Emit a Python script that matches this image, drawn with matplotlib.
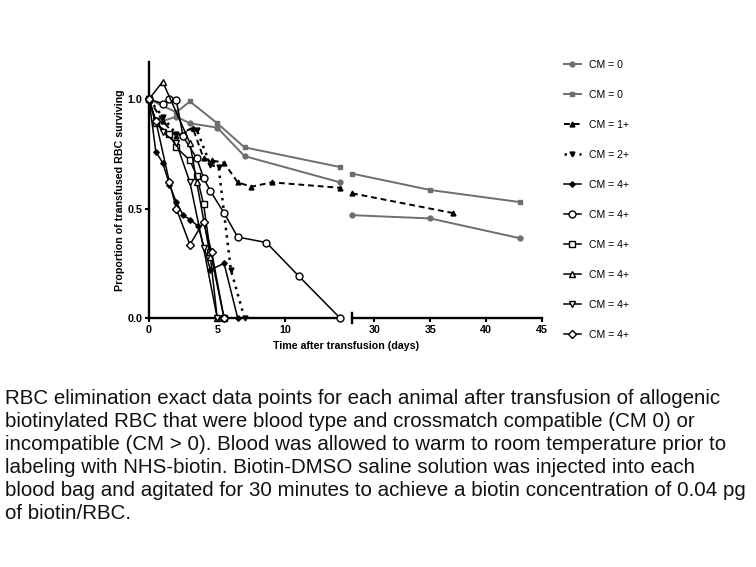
import matplotlib
matplotlib.use("Agg")
import matplotlib.pyplot as plt
from matplotlib.lines import Line2D

plt.rcParams['font.family'] = ['Liberation Sans', 'DejaVu Sans']

# ---------------- data ----------------
# Grey CM = 0 (circle)
cm0a_x_left = [0, 0.5, 2, 3, 5, 7, 14]
cm0a_y_left = [1.0, 0.89, 0.92, 0.89, 0.87, 0.74, 0.62]
cm0a_x_right = [28, 35, 43]
cm0a_y_right = [0.47, 0.455, 0.365]
# Grey CM = 0 (square)
cm0b_x_left = [0, 2, 3, 5, 7, 14]
cm0b_y_left = [1.0, 0.94, 0.99, 0.89, 0.78, 0.69]
cm0b_x_right = [28, 35, 43]
cm0b_y_right = [0.66, 0.585, 0.53]
# CM = 1+ (dashed, triangle up)
cm1_x_left = [0, 1, 2, 3.2, 4, 4.6, 5.5, 6.5, 7.5, 9, 14]
cm1_y_left = [1.0, 0.90, 0.83, 0.87, 0.73, 0.72, 0.71, 0.62, 0.60, 0.62, 0.595]
cm1_x_right = [28, 37]
cm1_y_right = [0.57, 0.48]
# CM = 2+ (dotted, triangle down)
cm2_x = [0, 1, 2, 3.5, 4.5, 5.1, 6.0, 7.0]
cm2_y = [1.0, 0.92, 0.84, 0.86, 0.70, 0.69, 0.22, 0.0]
# CM = 4+ series
cm4a_x = [0, 0.5, 1, 1.5, 2, 2.5, 3, 3.6, 4.5, 5.5, 6.5]          # filled diamond
cm4a_y = [1.0, 0.76, 0.71, 0.61, 0.53, 0.47, 0.45, 0.42, 0.22, 0.25, 0.0]
cm4b_x = [0, 1.0, 1.5, 2.0, 2.5, 3.5, 4.0, 4.5, 5.5, 6.5, 8.6, 11.0, 14]  # open circle
cm4b_y = [1.0, 0.98, 1.0, 0.995, 0.83, 0.73, 0.64, 0.58, 0.48, 0.37, 0.345, 0.19, 0.0]
cm4c_x = [0, 0.5, 1.5, 2, 3, 3.5, 4, 4.5, 5.5]                     # open square
cm4c_y = [1.0, 0.89, 0.84, 0.78, 0.72, 0.65, 0.52, 0.30, 0.0]
cm4d_x = [0, 1, 3, 3.5, 4.5, 5.0]                                   # open triangle up
cm4d_y = [1.0, 1.08, 0.80, 0.62, 0.28, 0.0]
cm4e_x = [0, 0.5, 1, 2, 3, 4, 5]                                    # open triangle down
cm4e_y = [1.0, 0.90, 0.85, 0.80, 0.62, 0.32, 0.0]
cm4f_x = [0, 0.5, 1.5, 2, 3, 4, 4.6, 5.5]                           # open diamond
cm4f_y = [1.0, 0.90, 0.62, 0.50, 0.335, 0.44, 0.30, 0.0]

legend_labels = ["CM = 0", "CM = 0", "CM = 1+", "CM = 2+", "CM = 4+",
                 "CM = 4+", "CM = 4+", "CM = 4+", "CM = 4+", "CM = 4+"]

caption = ("RBC elimination exact data points for each animal after transfusion of allogenic\n"
           "biotinylated RBC that were blood type and crossmatch compatible (CM 0) or\n"
           "incompatible (CM > 0). Blood was allowed to warm to room temperature prior to\n"
           "labeling with NHS-biotin. Biotin-DMSO saline solution was injected into each\n"
           "blood bag and agitated for 30 minutes to achieve a biotin concentration of 0.04 pg\n"
           "of biotin/RBC.")

# ---------------- styles ----------------
GREY = '#6e6e6e'
styles = [
    dict(color=GREY, ls='-', marker='o', mfc=GREY, ms=3.5, lw=1.4),
    dict(color=GREY, ls='-', marker='s', mfc=GREY, ms=3.5, lw=1.4),
    dict(color='black', ls=(0, (3, 2)), marker='^', mfc='black', ms=3.5, lw=1.4),
    dict(color='black', ls=(0, (1, 2)), marker='v', mfc='black', ms=3.5, lw=1.8),
    dict(color='black', ls='-', marker='D', mfc='black', ms=2.8, lw=1.1),
    dict(color='black', ls='-', marker='o', mfc='white', ms=5, lw=1.1, mew=1.0),
    dict(color='black', ls='-', marker='s', mfc='white', ms=5, lw=1.1, mew=1.0),
    dict(color='black', ls='-', marker='^', mfc='white', ms=5, lw=1.1, mew=1.0),
    dict(color='black', ls='-', marker='v', mfc='white', ms=5, lw=1.1, mew=1.0),
    dict(color='black', ls='-', marker='D', mfc='white', ms=4.5, lw=1.1, mew=1.0),
]

W, H = 756, 567
fig = plt.figure(figsize=(W / 100, H / 100), dpi=100)

FS = 7.7

ax_bottom_px, ax_top_px = 318, 62
y_max = 1.17
axL = fig.add_axes([149 / W, 1 - ax_bottom_px / H, (340 - 149) / W, (ax_bottom_px - ax_top_px) / H])
axR = fig.add_axes([352 / W, 1 - ax_bottom_px / H, (542 - 352) / W, (ax_bottom_px - ax_top_px) / H])

left_series = [
    (cm0a_x_left, cm0a_y_left, 0), (cm0b_x_left, cm0b_y_left, 1),
    (cm1_x_left, cm1_y_left, 2), (cm2_x, cm2_y, 3),
    (cm4a_x, cm4a_y, 4), (cm4b_x, cm4b_y, 5), (cm4c_x, cm4c_y, 6),
    (cm4d_x, cm4d_y, 7), (cm4e_x, cm4e_y, 8), (cm4f_x, cm4f_y, 9),
]
for xs, ys, i in left_series:
    axL.plot(xs, ys, clip_on=False, zorder=3, **styles[i])

right_series = [
    (cm0a_x_right, cm0a_y_right, 0), (cm0b_x_right, cm0b_y_right, 1),
    (cm1_x_right, cm1_y_right, 2),
]
for xs, ys, i in right_series:
    axR.plot(xs, ys, clip_on=False, zorder=3, **styles[i])

for ax in (axL, axR):
    ax.set_ylim(0, y_max)
    for s in ('top', 'right'):
        ax.spines[s].set_visible(False)
    ax.spines['bottom'].set_linewidth(1.7)
    ax.tick_params(axis='both', direction='out', length=3, width=1.5,
                   labelsize=FS, pad=1.8)

axL.set_xlim(0, 14)
axL.set_xticks([0, 5, 10])
axL.spines['left'].set_linewidth(1.7)
axL.set_yticks([0.0, 0.5, 1.0])
axL.set_yticklabels(['0.0', '0.5', '1.0'], fontweight='bold', fontsize=FS)
axL.set_xticklabels(['0', '5', '10'], fontweight='bold', fontsize=FS)
axL.set_ylabel('Proportion of transfused RBC surviving', fontsize=FS,
               fontweight='bold', labelpad=2)

axR.set_xlim(28, 45)
axR.set_xticks([30, 35, 40, 45])
axR.set_xticklabels(['30', '35', '40', '45'], fontweight='bold', fontsize=FS)
axR.spines['left'].set_visible(False)
axR.set_yticks([])
axR.plot([0, 0], [-0.02, 0.02], transform=axR.transAxes, color='black',
         lw=1.7, clip_on=False)

fig.text(346 / W, 1 - 346 / H, 'Time after transfusion (days)', ha='center',
         va='center', fontsize=FS, fontweight='bold')

handles = [Line2D([0], [0], **st) for st in styles]
fig.legend(handles, legend_labels, loc='upper left',
           bbox_to_anchor=(564 / W, 1 - 60 / H), frameon=False,
           fontsize=7.6, labelspacing=1.89, handlelength=1.6,
           handletextpad=0.8, borderpad=0, borderaxespad=0)

fig.text(5 / W, 1 - 389 / H, caption, ha='left', va='top', fontsize=14.8,
         linespacing=1.27, color='#111111')

fig.savefig('out.png', dpi=100)
